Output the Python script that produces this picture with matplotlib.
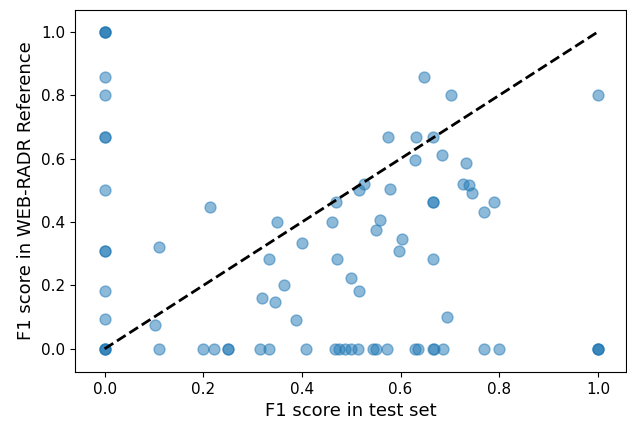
import numpy as np
import matplotlib
matplotlib.use("Agg")
import matplotlib.pyplot as plt

# points on the x = 0 column
zero_x = [0.0, 0.0, 0.0, 0.0, 0.0, 0.0, 0.0, 0.0, 0.0, 0.0, 0.0, 0.0, 0.0, 0.0, 0.0]
zero_y = [1.0, 1.0, 1.0, 0.857, 0.8, 0.667, 0.667, 0.5, 0.308, 0.308, 0.182, 0.095, 0.0, 0.0, 0.0]

# points with a non-zero reference score
mid_x = [0.103, 0.111, 0.214, 0.32, 0.334, 0.346, 0.35, 0.364, 0.388, 0.4,
         0.462, 0.469, 0.471, 0.5, 0.516, 0.515, 0.526, 0.551, 0.559, 0.578,
         0.575, 0.597, 0.603, 0.629, 0.631, 0.648, 0.666, 0.666, 0.666, 0.666,
         0.683, 0.695, 0.702, 0.727, 0.733, 0.739, 0.744, 0.77, 0.789, 1.0]
mid_y = [0.075, 0.321, 0.446, 0.16, 0.285, 0.148, 0.401, 0.202, 0.091, 0.333,
         0.401, 0.462, 0.282, 0.222, 0.182, 0.502, 0.52, 0.375, 0.405, 0.505,
         0.668, 0.308, 0.348, 0.597, 0.668, 0.859, 0.668, 0.462, 0.462, 0.285,
         0.61, 0.102, 0.802, 0.521, 0.585, 0.516, 0.491, 0.432, 0.463, 0.8]

# points with zero reference score
bottom_x = [0.111, 0.2, 0.222, 0.25, 0.25, 0.315, 0.333, 0.408, 0.467, 0.476,
            0.488, 0.5, 0.513, 0.545, 0.55, 0.573, 0.63, 0.635, 0.666, 0.667,
            0.686, 0.769, 0.8, 1.0, 1.0, 1.0]
bottom_y = [0.0] * len(bottom_x)

x = zero_x + mid_x + bottom_x
y = zero_y + mid_y + bottom_y

fig = plt.figure(figsize=(6.27, 4.22), dpi=100)
ax = fig.add_axes([75 / 627, 50 / 422, 551 / 627, 362 / 422])

ax.scatter(x, y, s=62, alpha=0.5, color='C0')
ax.plot([0, 1], [0, 1], 'k--', linewidth=2)

ax.set_xlim(-0.06, 1.057)
ax.set_ylim(-0.073, 1.069)
ax.set_xticks([0.0, 0.2, 0.4, 0.6, 0.8, 1.0])
ax.set_yticks([0.0, 0.2, 0.4, 0.6, 0.8, 1.0])
ax.tick_params(labelsize=11)
ax.set_xlabel('F1 score in test set', fontsize=13)
ax.set_ylabel('F1 score in WEB-RADR Reference', fontsize=13)

fig.savefig('out.png', dpi=100)
